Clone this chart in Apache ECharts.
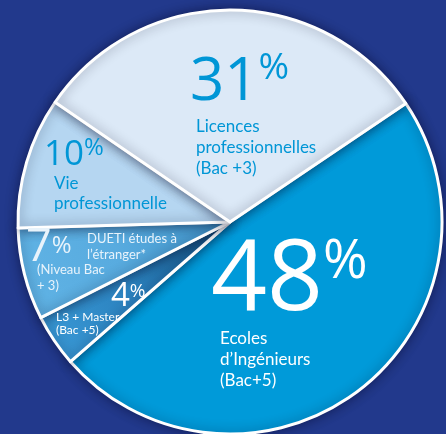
<!DOCTYPE html>
<html>
<head>
<meta charset="utf-8">
<script src="https://cdn.jsdelivr.net/npm/echarts@6/dist/echarts.min.js"></script>
<style>
html,body{margin:0;padding:0;background:#22398c;}
#main{width:446px;height:434px;}
</style>
</head>
<body>
<div id="main"></div>
<script>
// ---- data ----
const categories = ['Ecoles d’Ingénieurs (Bac+5)', 'L3 + Master (Bac +5)', 'DUETI études à l’étranger* (Niveau Bac + 3)', 'Vie professionnelle', 'Licences professionnelles (Bac +3)'];
const values = [48, 4, 7, 10, 31];
const descLines = [
  ['Ecoles', 'd’Ingénieurs', '(Bac+5)'],
  ['L3 + Master', '(Bac +5)'],
  ['(Niveau Bac', '+ 3)'],
  ['Vie', 'professionnelle'],
  ['Licences', 'professionnelles', '(Bac +3)']
];
const sideNotes = ['', '', 'DUETI études à\nl’étranger*', '', ''];

// ---- styles ----
const CX = 230, CY = 222, R = 212;
const radial = (c0, c1, c2) => ({
  type: 'radial', x: CX, y: CY, r: R, global: true,
  colorStops: [{offset: 0, color: c0}, {offset: 0.55, color: c1}, {offset: 1, color: c2}]
});
const sliceColors = [
  '#009ad9',
  radial('#15507e', '#2a80bd', '#3897d4'),
  radial('#3f93c8', '#58abdf', '#5fb2e4'),
  '#b5d6f1',
  '#dce9f7'
];
const NUM_FONT = 'Open Sans';
const FONT = 'Lato';
const labelStyles = [
  {num: 98, numLH: 92, pct: 54, pctLH: 58, desc: 17, dlh: 21, color: '#ffffff', numPad: 0, descPad: 9},
  {num: 33, numLH: 29, pct: 19, pctLH: 14, desc: 12, dlh: 13, color: '#ffffff', numPad: 55, descPad: 0},
  {num: 45, numLH: 28, pct: 24, pctLH: 14, desc: 13, dlh: 16, color: '#e8f3fb', numPad: 0, descPad: 11},
  {num: 35, numLH: 38, pct: 24, pctLH: 24, desc: 17, dlh: 20, color: '#0096d6', numPad: 0, descPad: 10},
  {num: 60, numLH: 66, pct: 37, pctLH: 36, desc: 17, dlh: 21, color: '#0096d6', numPad: 0, descPad: 6}
];
const labelPos = [[211, 236], [56, 282], [26, 234], [44, 136], [190, 50]];
const notePos = [87, 231];

const chart = echarts.init(document.getElementById('main'));

const mainData = values.map((v, i) => {
  const s = labelStyles[i];
  const lines = descLines[i].map(l => `{desc|${l}}`).join('\n');
  return {
    name: categories[i],
    value: v,
    itemStyle: {color: sliceColors[i]},
    label: {
      formatter: `{num|${v}}{pct|%}\n${lines}`,
      rich: {
        num: {fontFamily: NUM_FONT, fontSize: s.num, lineHeight: s.numLH, color: s.color, padding: [0, 0, 0, s.numPad]},
        pct: {fontFamily: NUM_FONT, fontSize: s.pct, lineHeight: s.pctLH, color: s.color, verticalAlign: 'top'},
        desc: {fontFamily: FONT, fontSize: s.desc, lineHeight: s.dlh, color: s.color, padding: [0, 0, 0, s.descPad]}
      }
    }
  };
});

const noteData = values.map((v, i) => ({
  name: categories[i],
  value: v,
  label: {show: sideNotes[i] !== '', formatter: sideNotes[i]}
}));

chart.setOption({
  backgroundColor: '#22398c',
  animation: false,
  series: [
    {
      type: 'pie',
      center: [CX, CY],
      radius: [0, R],
      startAngle: 34,
      clockwise: true,
      avoidLabelOverlap: false,
      silent: true,
      itemStyle: {
        borderColor: '#ffffff',
        borderWidth: 3,
        shadowBlur: 12,
        shadowColor: 'rgba(0,0,30,0.45)'
      },
      label: {show: true, position: 'inside'},
      labelLine: {show: false},
      labelLayout: function (p) {
        const pos = labelPos[p.dataIndex];
        return {x: pos[0], y: pos[1], align: 'left', verticalAlign: 'top'};
      },
      data: mainData
    },
    {
      type: 'pie',
      center: [CX, CY],
      radius: [0, R],
      startAngle: 34,
      clockwise: true,
      silent: true,
      z: 5,
      itemStyle: {color: 'rgba(0,0,0,0)', borderWidth: 0},
      label: {
        show: true, position: 'inside',
        fontFamily: FONT, fontSize: 13, lineHeight: 16, color: '#e8f3fb', align: 'left'
      },
      labelLine: {show: false},
      labelLayout: function () {
        return {x: notePos[0], y: notePos[1], align: 'left', verticalAlign: 'top'};
      },
      data: noteData
    }
  ]
});
</script>
</body>
</html>
